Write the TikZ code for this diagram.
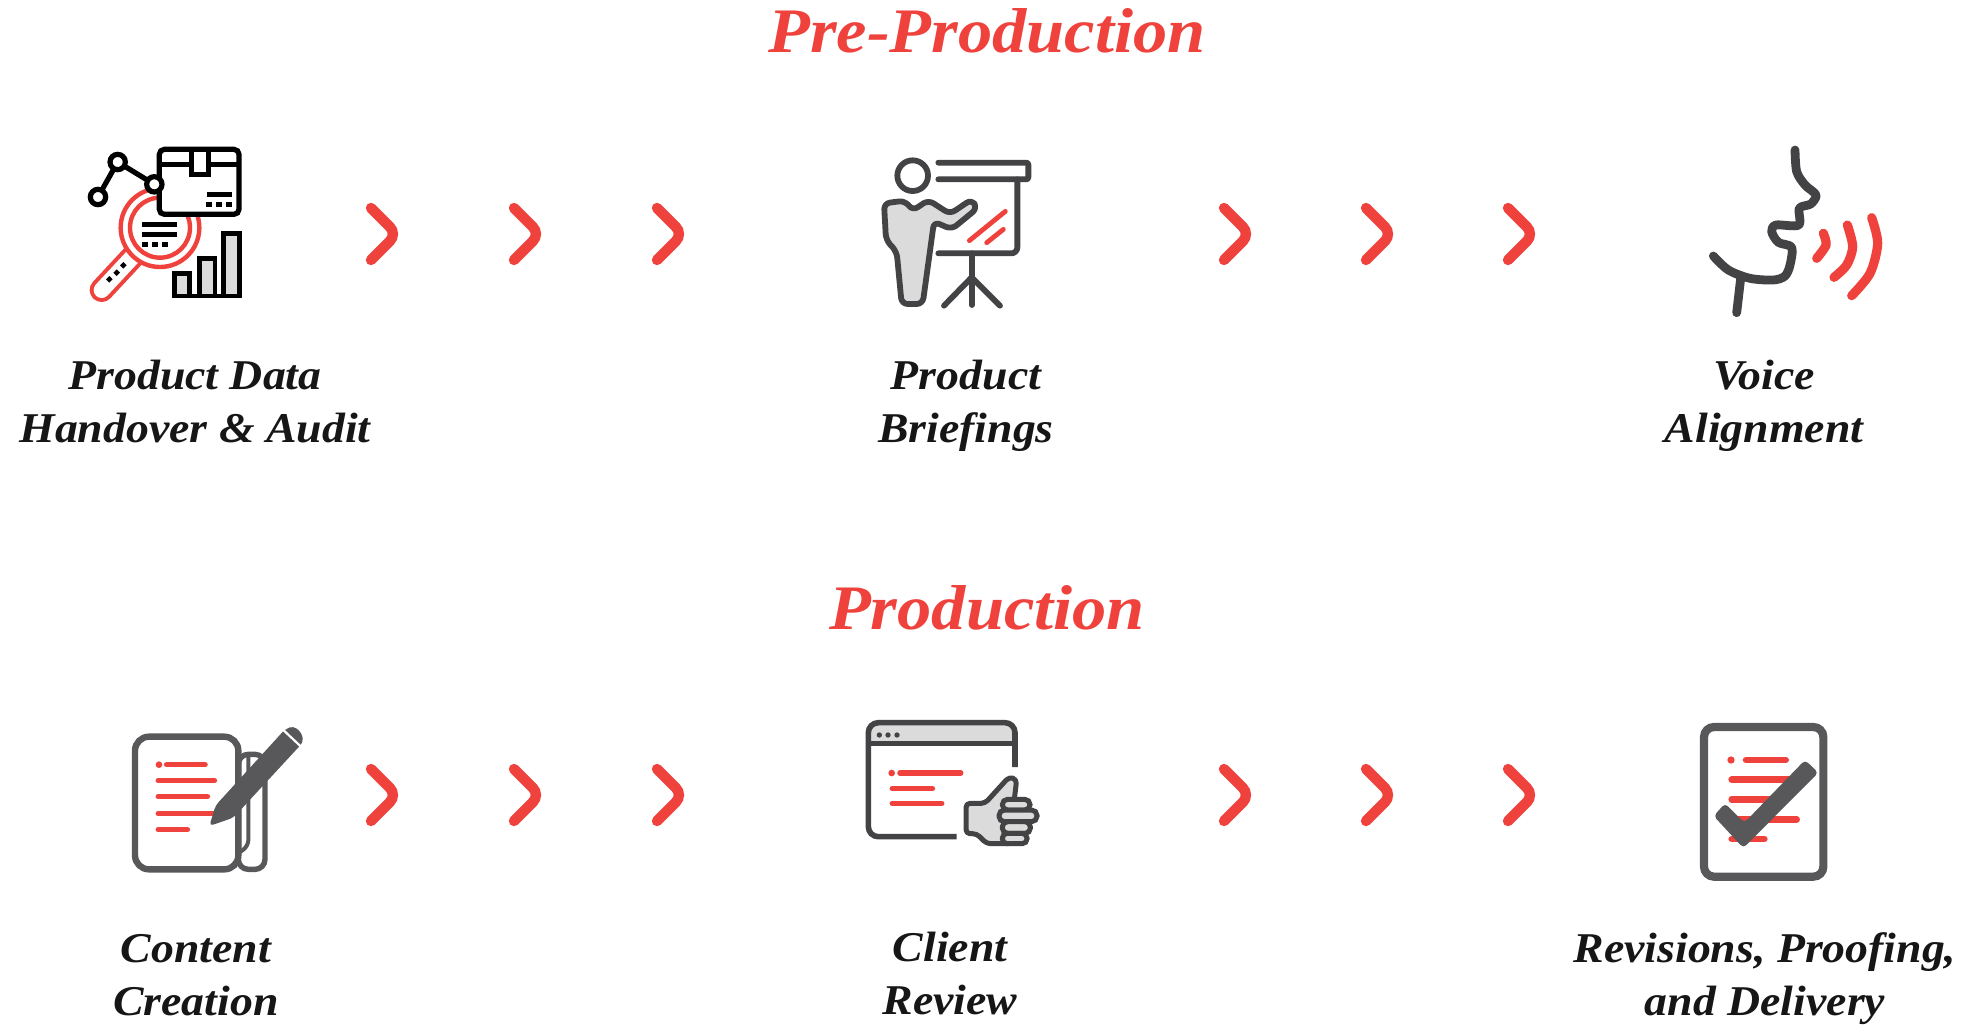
\documentclass[tikz,border=0pt]{standalone}
\usepackage{fontspec}
\setmainfont[FakeStretch=1.08]{Liberation Serif}
\definecolor{brandred}{HTML}{EF423C}
\definecolor{darkgray}{HTML}{434244}
\definecolor{midgray}{HTML}{58585A}
\definecolor{lightfill}{HTML}{DBDBDC}
\definecolor{inktext}{HTML}{161616}
\begin{document}
\begin{tikzpicture}[x=0.5pt,y=-0.5pt]
        \tikzstyle{heading}=[font=\bfseries\itshape\fontsize{31.7}{34}\selectfont, text=brandred, inner sep=0pt]
        \tikzstyle{caption}=[font=\bfseries\itshape\fontsize{21.2}{26.5}\selectfont, text=inktext, align=center, inner sep=0pt]
        \tikzstyle{chevron}=[brandred, line width=5.2pt, line cap=round, rounded corners=5pt]
        \tikzstyle{redline}=[brandred, line width=2.8pt, line cap=round]
        \tikzstyle{zoomed}=[x=0.16667pt,y=-0.16667pt]
        \useasboundingbox (0,0) rectangle (1973,1029);

        \node[heading] (pre)  at (987,31)  {Pre-Production};
        \node[heading] (prod) at (987,608) {Production};

        \node[caption] (audit)     at (195,402)  {Product Data\\Handover \& Audit};
        \node[caption] (briefings) at (966,406)  {Product\\Briefings};
        \node[caption] (voice)     at (1764,406) {Voice\\Alignment};
        \node[caption] (content)   at (196,975)  {Content\\Creation};
        \node[caption] (review)    at (950,973)  {Client\\Review};
        \node[caption] (revisions) at (1765,979) {Revisions, Proofing,\\and Delivery};

        % chevrons between the steps
        \foreach \y in {234,795}
            \foreach \x in {381,524,667,1234,1376,1518}
                \draw[chevron] (\x-10,\y-26) -- (\x+16,\y) -- (\x-10,\y+26);

        % data audit
        \begin{scope}[shift={(70,131)},zoomed]
            \draw[brandred, line width=12pt, line cap=round] (190,375) -- (95,477);
            \draw[white, line width=8pt, line cap=round] (190,375) -- (95,477);
            \draw[brandred, line width=2.2pt, fill=white] (270,290) circle (118);
            \draw[brandred, line width=2.2pt, fill=white] (270,290) circle (90);
            \foreach \px/\py in {118/445,140/425,160/403}
                \fill[black, rotate around={45:(\px,\py)}] (\px-7,\py-7) rectangle (\px+7,\py+7);
            \draw[black, line width=2.4pt] (217,280) -- (322,280);
            \draw[black, line width=2.4pt] (217,310) -- (322,310);
            \foreach \px in {225,255,285}
                \fill[black] (\px-8,332) rectangle (\px+8,348);
            \draw[black, line width=2.4pt, fill=lightfill] (313,495) rectangle (358,427);
            \draw[black, line width=2.4pt, fill=lightfill] (388,495) rectangle (435,383);
            \draw[black, line width=2.4pt, fill=lightfill] (460,495) rectangle (508,307);
            \draw[black, line width=2.4pt] (306,495) -- (515,495);
            \draw[black, line width=2.6pt, fill=white, rounded corners=2.5pt] (268,55) rectangle (507,250);
            \draw[black, line width=2.4pt] (268,100) -- (365,100) -- (365,130) -- (415,130) -- (415,100) -- (507,100);
            \draw[black, line width=2.4pt] (365,55) -- (365,100) (415,55) -- (415,100);
            \draw[black, line width=2.4pt] (410,190) -- (485,190);
            \foreach \px in {417,447,477}
                \fill[black] (\px-8,212) rectangle (\px+8,228);
            \draw[black, line width=2.6pt] (84,198) -- (143,93) -- (253,160);
            \foreach \px/\py in {84/198,143/93,253/160}
                \draw[black, line width=2.6pt, fill=white] (\px,\py) circle (23);
        \end{scope}

        % presenter
        \begin{scope}[shift={(860,140)},zoomed, line cap=round, line join=round]
            \draw[darkgray, line width=2.9pt] (158,107) circle (46);
            \draw[darkgray, line width=2.9pt, rounded corners=1pt] (235,68) -- (505,68) -- (505,118) -- (235,118);
            \draw[darkgray, line width=2.9pt, rounded corners=3pt] (472,118) -- (472,340) -- (235,340);
            \draw[darkgray, line width=2.9pt] (335,340) -- (335,495);
            \draw[darkgray, line width=2.9pt] (252,497) -- (335,412) -- (420,497);
            \draw[redline, line width=2.4pt] (328,302) -- (436,214);
            \draw[redline, line width=2.4pt] (380,308) -- (430,268);
            \draw[darkgray, line width=2.9pt, fill=lightfill, rounded corners=3pt] (135,182) -- (158,212) -- (205,180) -- (270,222) -- (335,178) -- (352,205) -- (275,268) -- (222,245) -- (188,492) -- (125,492) -- (110,335) -- (78,300) -- (72,190) -- cycle;
        \end{scope}

        % speaking profile
        \begin{scope}[shift={(1690,130)},zoomed]
            \draw[darkgray, line width=4.4pt, line cap=round, line join=round] plot[smooth, tension=.5] coordinates {(315,60) (320,125) (345,165) (378,195) (362,222) (328,235) (326,285) (258,285) (245,305) (265,337) (305,352) (300,405) (285,438) (250,450) (180,445) (115,420) (70,378)};
            \draw[darkgray, line width=4.4pt, line cap=round] (152,445) -- (140,548);
            \draw[redline, line width=4.6pt] plot[smooth] coordinates {(400,310) (408,345) (380,385)};
            \draw[redline, line width=4.6pt] plot[smooth] coordinates {(472,285) (488,350) (470,405) (432,442)};
            \draw[redline, line width=4.6pt] plot[smooth] coordinates {(545,263) (563,340) (540,430) (485,497)};
        \end{scope}

        % content creation
        \begin{scope}[shift={(120,716)},zoomed]
            \draw[midgray, line width=2.7pt, fill=white, rounded corners=5pt] (355,115) -- (435,115) -- (435,460) -- (355,460) -- cycle;
            \draw[midgray, line width=2pt, rounded corners=3pt] (385,115) -- (385,390) -- (360,408);
            \draw[midgray, line width=3.2pt, fill=white, rounded corners=7pt] (45,62) rectangle (355,460);
            \fill[brandred] (117,146) circle (10);
            \draw[redline] (140,146) -- (255,146);
            \draw[redline] (115,194) -- (283,194);
            \draw[redline] (115,242) -- (262,242);
            \draw[redline] (115,293) -- (285,293);
            \draw[redline] (115,341) -- (202,341);
            \fill[midgray, rounded corners=2pt] (268,330) -- (287,268) -- (495,40) -- (520,30) -- (545,50) -- (550,78) -- (340,305) -- cycle;
            \draw[white, line width=1.1pt] (491,43) -- (543,92);
        \end{scope}

        % client review
        \begin{scope}[shift={(855,711)},zoomed]
            \fill[lightfill, rounded corners=4pt] (40,35) -- (480,35) -- (480,97) -- (40,97) -- cycle;
            \draw[darkgray, line width=2.8pt, rounded corners=5pt] (305,377) -- (40,377) -- (40,35) -- (480,35) -- (480,168);
            \draw[darkgray, line width=2.2pt] (40,97) -- (480,97);
            \foreach \px in {73,99,126}
                \fill[darkgray] (\px,72) circle (8);
            \fill[brandred] (110,186) circle (10);
            \draw[redline] (135,186) -- (317,186);
            \draw[redline] (112,233) -- (232,233);
            \draw[redline] (112,277) -- (260,277);
            \draw[darkgray, line width=2.5pt, fill=lightfill, line join=round, rounded corners=2pt] (333,277) -- (390,277) -- (462,198) -- (485,205) -- (478,265) -- (470,398) -- (395,398) -- (365,368) -- (333,368) -- cycle;
            \draw[darkgray, line width=2.5pt, fill=lightfill, rounded corners=2.6pt] (442,265) rectangle (525,297);
            \draw[darkgray, line width=2.5pt, fill=lightfill, rounded corners=2.7pt] (432,297) rectangle (546,332);
            \draw[darkgray, line width=2.5pt, fill=lightfill, rounded corners=2.6pt] (442,332) rectangle (526,367);
            \draw[darkgray, line width=2.5pt, fill=lightfill, rounded corners=2.4pt] (442,367) rectangle (516,398);
        \end{scope}

        % revisions
        \begin{scope}[shift={(1685,716)},zoomed]
            \draw[midgray, line width=4.1pt, fill=white, rounded corners=5pt] (57,33) rectangle (415,482);
            \fill[brandred] (138,132) circle (11);
            \draw[redline, line width=3.3pt] (183,132) -- (302,132);
            \draw[redline, line width=3.3pt] (140,191) -- (310,191);
            \draw[redline, line width=3.3pt] (140,250) -- (280,250);
            \draw[redline, line width=3.3pt] (160,310) -- (335,310);
            \draw[redline, line width=3.3pt] (140,369) -- (238,369);
            \fill[midgray, rounded corners=2pt] (86,300) -- (120,262) -- (178,320) -- (360,132) -- (400,170) -- (175,396) -- cycle;
        \end{scope}
    \end{tikzpicture}
\end{document}
